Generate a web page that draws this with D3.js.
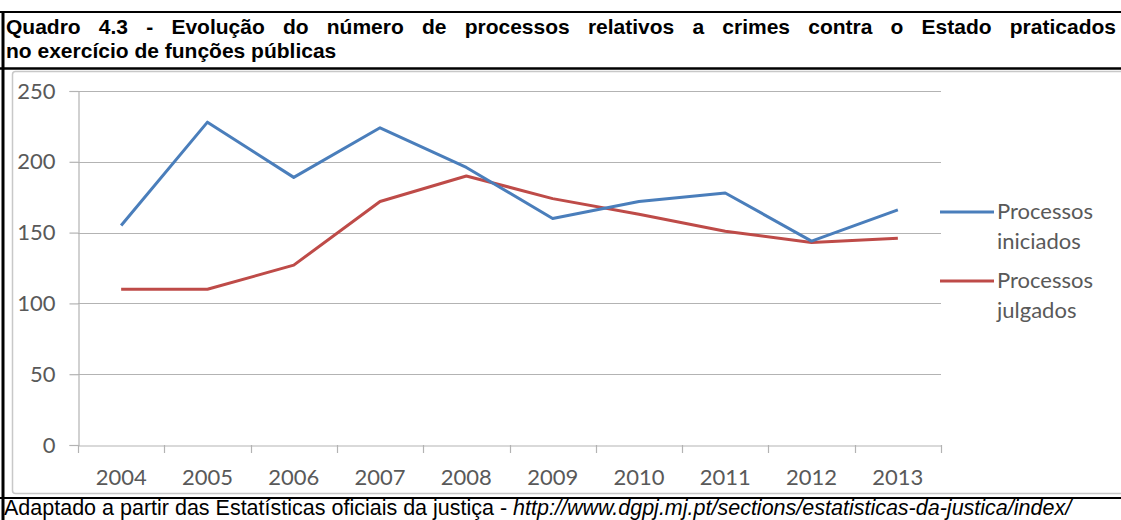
<!DOCTYPE html>
<html>
<head>
<meta charset="utf-8">
<script src="https://cdn.jsdelivr.net/npm/d3@7"></script>
<style>
  html, body { margin: 0; padding: 0; background: #fff; }
  svg { display: block; }
</style>
</head>
<body>
<svg id="chart" width="1121" height="520"></svg>
<script>
// Number of cases (processos) per year
const years = ["2004", "2005", "2006", "2007", "2008", "2009", "2010", "2011", "2012", "2013"];
const iniciados = [155, 228, 189, 224, 196, 160, 172, 178, 144, 166];
const julgados = [110, 110, 127, 172, 190, 174, 163, 151, 143, 146];
const yTicks = [0, 50, 100, 150, 200, 250];
const seriesNames = [["Processos", "iniciados"], ["Processos", "julgados"]];

const titleLines = [
  "Quadro 4.3 - Evolução do número de processos relativos a crimes contra o Estado praticados",
  "no exercício de funções públicas"
];
const sourceText = "Adaptado a partir das Estatísticas oficiais da justiça - ";
const sourceUrl = "http://www.dgpj.mj.pt/sections/estatisticas-da-justica/index/";

const svg = d3.select("#chart");
const W = 1121, H = 520;

// Frame of the table cell
svg.append("line").attr("x1", 0).attr("x2", W).attr("y1", 12).attr("y2", 12)
  .attr("stroke", "#000").attr("stroke-width", 2);
svg.append("line").attr("x1", 0).attr("x2", W).attr("y1", 68.5).attr("y2", 68.5)
  .attr("stroke", "#000").attr("stroke-width", 2.5);
svg.append("line").attr("x1", 0).attr("x2", W).attr("y1", 498).attr("y2", 498)
  .attr("stroke", "#000").attr("stroke-width", 2);
svg.append("line").attr("x1", 3).attr("x2", 3).attr("y1", 11).attr("y2", H)
  .attr("stroke", "#000").attr("stroke-width", 3);

// Title, first line justified to the cell width
const titleFont = "'Liberation Sans', Arial, sans-serif";
const titleSize = 21;
const t1 = svg.append("text").attr("x", 6).attr("y", 34)
  .attr("font-family", titleFont).attr("font-weight", "bold").attr("font-size", titleSize)
  .attr("fill", "#000").text(titleLines[0]);
const natural = t1.node().getComputedTextLength();
const gaps = titleLines[0].split(" ").length - 1;
t1.attr("word-spacing", Math.max(0, (1116 - 6 - natural) / gaps));
svg.append("text").attr("x", 6).attr("y", 58)
  .attr("font-family", titleFont).attr("font-weight", "bold").attr("font-size", titleSize)
  .attr("fill", "#000").text(titleLines[1]);

// Source note
const src = svg.append("text").attr("x", 4).attr("y", 515)
  .attr("font-family", titleFont).attr("font-size", 21.5).attr("fill", "#000");
src.append("tspan").text(sourceText);
src.append("tspan").attr("font-style", "italic").text(sourceUrl);

// Chart area border
svg.append("rect").attr("x", 12.5).attr("y", 71.5).attr("width", 1112).attr("height", 422)
  .attr("rx", 3).attr("fill", "none").attr("stroke", "#c8c8c8").attr("stroke-width", 1.5);

// Plot
const plot = { left: 78, right: 941, top: 91, bottom: 445 };
const x = d3.scaleBand().domain(years).range([plot.left, plot.right]);
const y = d3.scaleLinear().domain([0, 250]).range([plot.bottom, plot.top]);

const labelFont = "Lato, 'Open Sans', sans-serif";
const labelSize = 22;
const gridColor = "#b3b3b3";

// Horizontal gridlines
svg.append("g").selectAll("line").data(yTicks.filter(d => d > 0)).join("line")
  .attr("x1", plot.left).attr("x2", plot.right)
  .attr("y1", d => Math.round(y(d)) + 0.5).attr("y2", d => Math.round(y(d)) + 0.5)
  .attr("stroke", gridColor).attr("stroke-width", 1.2);

// Y axis
const yAxis = svg.append("g").attr("transform", `translate(${plot.left + 0.5},0)`)
  .call(d3.axisLeft(y).tickValues(yTicks).tickSize(9).tickPadding(14));
yAxis.select(".domain").attr("stroke", gridColor).attr("stroke-width", 1.2);
yAxis.selectAll(".tick line").attr("stroke", gridColor).attr("stroke-width", 1.2);
yAxis.selectAll(".tick text").attr("font-family", labelFont).attr("font-size", labelSize)
  .attr("fill", "#595959");

// X axis with ticks on category boundaries
const xAxis = svg.append("g").attr("transform", `translate(0,${plot.bottom + 0.5})`)
  .call(d3.axisBottom(x).tickSize(0).tickPadding(24));
xAxis.select(".domain").attr("stroke", gridColor).attr("stroke-width", 1.2);
xAxis.selectAll(".tick text").attr("font-family", labelFont).attr("font-size", labelSize)
  .attr("fill", "#595959");
const bounds = years.map(d => x(d)).concat([x(years[years.length - 1]) + x.bandwidth()]);
svg.append("g").selectAll("line").data(bounds).join("line")
  .attr("x1", d => Math.round(d) + 0.5).attr("x2", d => Math.round(d) + 0.5)
  .attr("y1", plot.bottom).attr("y2", plot.bottom + 8)
  .attr("stroke", gridColor).attr("stroke-width", 1.2);

// Lines
const colors = ["#4a7ebb", "#be4b48"];
const cx = d => x(d) + x.bandwidth() / 2;
const line = d3.line().x((d, i) => cx(years[i])).y(d => y(d));

svg.append("path").datum(julgados).attr("d", line)
  .attr("fill", "none").attr("stroke", colors[1]).attr("stroke-width", 3)
  .attr("stroke-linejoin", "round");
svg.append("path").datum(iniciados).attr("d", line)
  .attr("fill", "none").attr("stroke", colors[0]).attr("stroke-width", 3)
  .attr("stroke-linejoin", "round");

// Legend
const legendY = [212, 281];
const legend = svg.append("g");
seriesNames.forEach((name, i) => {
  legend.append("line").attr("x1", 940).attr("x2", 994)
    .attr("y1", legendY[i]).attr("y2", legendY[i])
    .attr("stroke", colors[i]).attr("stroke-width", 3);
  const t = legend.append("text").attr("x", 997).attr("y", legendY[i] + 7)
    .attr("font-family", labelFont).attr("font-size", labelSize).attr("fill", "#595959");
  t.append("tspan").attr("x", 997).text(name[0]);
  t.append("tspan").attr("x", 997).attr("dy", 30).text(name[1]);
});
</script>
</body>
</html>
